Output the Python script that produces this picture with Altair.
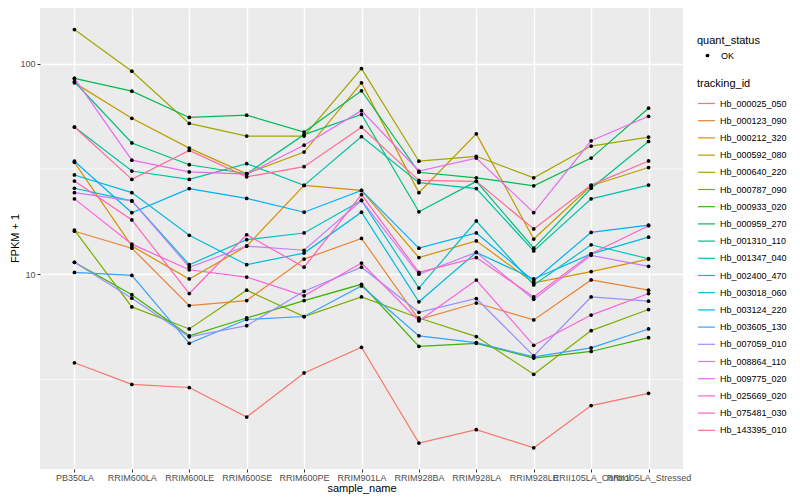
import altair as alt
import pandas as pd

samples = ["PB350LA", "RRIM600LA", "RRIM600LE", "RRIM600SE", "RRIM600PE", "RRIM901LA",
           "RRIM928BA", "RRIM928LA", "RRIM928LE", "RRII105LA_Control", "RRII105LA_Stressed"]

ids = ["Hb_000025_050", "Hb_000123_090", "Hb_000212_320", "Hb_000592_080", "Hb_000640_220",
       "Hb_000787_090", "Hb_000933_020", "Hb_000959_270", "Hb_001310_110", "Hb_001347_040",
       "Hb_002400_470", "Hb_003018_060", "Hb_003124_220", "Hb_003605_130", "Hb_007059_010",
       "Hb_008864_110", "Hb_009775_020", "Hb_025669_020", "Hb_075481_030", "Hb_143395_010"]

hb_000025_050 = [3.8, 3.0, 2.9, 2.1, 3.4, 4.5, 1.58, 1.83, 1.5, 2.38, 2.72]
hb_000123_090 = [16.0, 13.3, 7.1, 7.5, 11.8, 14.8, 6.1, 7.3, 6.07, 9.4, 8.4]
hb_000212_320 = [34.0, 13.6, 9.5, 13.6, 26.4, 25.0, 12.0, 14.4, 9.1, 10.3, 11.8]
hb_000592_080 = [81.0, 55.0, 39.7, 30.0, 38.0, 81.0, 24.4, 46.4, 14.7, 26.3, 32.1]
hb_000640_220 = [145.0, 92.0, 52.0, 45.3, 45.3, 94.7, 34.4, 36.3, 28.7, 40.6, 44.8]
hb_000787_090 = [16.2, 7.0, 5.5, 8.4, 6.3, 7.8, 6.2, 5.06, 3.35, 5.4, 6.8]
hb_000933_020 = [11.4, 8.0, 5.1, 6.2, 7.5, 8.96, 4.55, 4.7, 4.0, 4.3, 5.0]
hb_000959_270 = [85.0, 74.0, 55.5, 56.9, 47.3, 74.3, 30.5, 28.7, 26.3, 35.6, 61.4]
hb_001310_110 = [82.0, 42.0, 33.1, 30.0, 46.0, 57.4, 19.8, 27.6, 13.3, 25.6, 42.7]
hb_001347_040 = [50.0, 30.9, 28.2, 33.5, 26.4, 45.0, 27.2, 25.5, 12.9, 22.8, 26.5]
hb_002400_470 = [25.6, 22.3, 11.1, 14.6, 15.7, 22.4, 8.6, 17.9, 8.9, 13.8, 11.85]
hb_003018_060 = [29.6, 24.4, 15.3, 11.1, 12.6, 19.7, 7.4, 12.7, 9.5, 12.5, 15.0]
hb_003124_220 = [34.4, 19.6, 25.5, 22.9, 19.7, 25.0, 13.3, 15.7, 9.3, 15.8, 17.1]
hb_003605_130 = [10.2, 9.87, 4.7, 6.1, 6.3, 8.8, 5.1, 4.74, 4.05, 4.47, 5.5]
hb_007059_010 = [11.4, 7.7, 5.05, 5.7, 8.3, 10.8, 6.6, 7.67, 4.1, 7.8, 7.45]
hb_008864_110 = [24.4, 22.3, 10.8, 13.6, 13.0, 22.4, 10.0, 12.7, 7.6, 12.3, 10.9]
hb_009775_020 = [85.0, 34.8, 30.6, 29.9, 41.0, 59.8, 30.9, 35.6, 19.6, 43.0, 56.2]
hb_025669_020 = [22.8, 13.9, 10.5, 9.7, 7.9, 11.3, 6.0, 9.38, 4.6, 6.4, 8.1]
hb_075481_030 = [27.7, 18.1, 8.1, 15.4, 10.8, 23.9, 10.2, 12.0, 7.8, 12.5, 17.0]
hb_143395_010 = [50.0, 28.2, 38.7, 29.0, 32.4, 49.9, 27.9, 27.6, 16.4, 26.5, 34.5]

series = [hb_000025_050, hb_000123_090, hb_000212_320, hb_000592_080, hb_000640_220,
          hb_000787_090, hb_000933_020, hb_000959_270, hb_001310_110, hb_001347_040,
          hb_002400_470, hb_003018_060, hb_003124_220, hb_003605_130, hb_007059_010,
          hb_008864_110, hb_009775_020, hb_025669_020, hb_075481_030, hb_143395_010]

palette = ["#F8766D", "#EA8331", "#D89000", "#C09B00", "#A3A500", "#7CAE00", "#39B600",
           "#00BB4E", "#00BF7D", "#00C1A3", "#00BFC4", "#00BAE0", "#00B0F6", "#35A2FF",
           "#9590FF", "#C77CFF", "#E76BF3", "#FA62DB", "#FF62BC", "#FF6C91"]

minor_breaks = [3.1623, 31.623]
major_breaks = [10, 100]

rows = []
for tid, vals in zip(ids, series):
    for s, v in zip(samples, vals):
        rows.append({"tracking_id": tid, "sample_name": s, "fpkm": v, "quant_status": "OK"})
df = pd.DataFrame(rows)
minor_df = pd.DataFrame({"v": minor_breaks})

FONT = "Liberation Sans"
yscale = alt.Scale(type="log", domain=[1.19, 183.6], nice=False)
yaxis = alt.Axis(values=major_breaks, format="d", title="FPKM + 1", titleX=-25, titleY=230,
                 titleAngle=270, titleBaseline="middle", titleAlign="center")
xscale = alt.Scale(type="point", padding=0.6)
xaxis = alt.Axis(title="sample_name", labelAngle=0, labelOverlap=False, labelLimit=0,
                 labelPadding=1, titleY=19, titleBaseline="middle")

minor = alt.Chart(minor_df).mark_rule(color="white", strokeWidth=0.7).encode(
    y=alt.Y("v:Q", scale=yscale, axis=yaxis)
)

lines = alt.Chart(df).mark_line(strokeWidth=1.2).encode(
    x=alt.X("sample_name:N", sort=samples, scale=xscale, axis=xaxis),
    y=alt.Y("fpkm:Q", scale=yscale, axis=yaxis),
    color=alt.Color("tracking_id:N", scale=alt.Scale(domain=ids, range=palette),
                    legend=alt.Legend(title="tracking_id", orient="none", legendX=657, legendY=70,
                                      symbolType="stroke", symbolSize=289, symbolStrokeWidth=1.2,
                                      rowPadding=2.2, padding=0, titlePadding=5, labelOffset=4)),
    detail="tracking_id:N",
)

points = alt.Chart(df).mark_point(filled=True, size=14, color="black", opacity=1).encode(
    x=alt.X("sample_name:N", sort=samples, scale=xscale, axis=xaxis),
    y=alt.Y("fpkm:Q", scale=yscale, axis=yaxis),
    shape=alt.Shape("quant_status:N",
                    legend=alt.Legend(title="quant_status", orient="none", legendX=657, legendY=27,
                                      symbolSize=14, symbolFillColor="black", symbolStrokeColor="black",
                                      symbolOffset=6, padding=0, titlePadding=5, labelOffset=9)),
)

chart = alt.layer(minor, lines, points).properties(
    width=643, height=461,
    autosize=alt.AutoSizeParams(type="none"),
    padding={"left": 32, "top": 0, "right": 109, "bottom": 25},
).configure_view(
    fill="#EBEBEB", stroke=None
).configure_axis(
    grid=True, gridColor="white", gridWidth=1.4, domain=False,
    tickColor="#333333", tickSize=3, tickWidth=1,
    labelFont=FONT, labelFontSize=9, labelColor="#4D4D4D", labelPadding=2,
    titleFont=FONT, titleFontSize=11, titleColor="black", titleFontWeight="normal",
).configure_legend(
    labelFont=FONT, labelFontSize=9, labelColor="black",
    titleFont=FONT, titleFontSize=11, titleColor="black", titleFontWeight="normal",
)

chart.save("out.html", embed_options={"renderer": "svg", "actions": False})
